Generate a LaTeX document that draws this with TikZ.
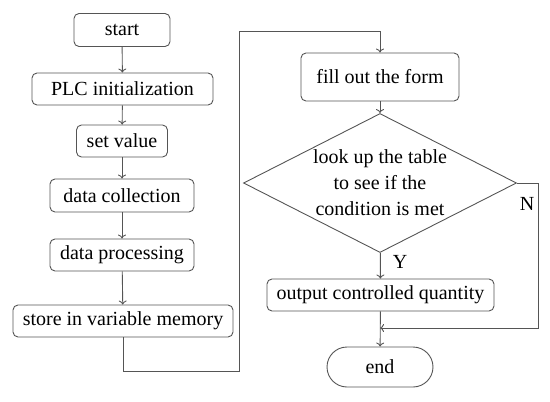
\documentclass[tikz,border=0pt]{standalone}
\usepackage{fontspec}
\setmainfont{Liberation Serif}
\usetikzlibrary{shapes.geometric,arrows.meta}

\definecolor{linegray}{RGB}{85,85,85}

\tikzset{
  stepbox/.style={draw=linegray, line width=0.9pt, rounded corners=5pt,
    inner sep=0pt, align=center},
  flow/.style={draw=linegray, line width=0.9pt, -{To[length=4pt,width=8pt]}},
}

\begin{document}
\begin{tikzpicture}[x=1pt,y=-1pt,font=\fontsize{20}{26}\selectfont]
  \useasboundingbox (0,0) rectangle (550,402);
  % left column
  \node[stepbox, minimum width=96, minimum height=33] (start) at (122,30) {start};
  \node[stepbox, minimum width=181, minimum height=32] (init) at (122.5,89) {PLC initialization};
  \node[stepbox, minimum width=91, minimum height=32] (setval) at (122,141) {set value};
  \node[stepbox, minimum width=144, minimum height=33] (collect) at (122,195.5) {data collection};
  \node[stepbox, minimum width=144, minimum height=32] (process) at (122,255) {data processing};
  \node[stepbox, minimum width=220, minimum height=32] (store) at (123,321) {store in variable memory};
  % right column
  \node[stepbox, minimum width=158, minimum height=48] (fill) at (380,77) {fill out the form};
  \node[draw=linegray, line width=0.9pt, shape=diamond, aspect=1.96, inner sep=0pt,
    minimum width=273, minimum height=139, align=center] (lookup) at (380,183)
    {look up the table\\to see if the\\condition is met};
  \node[stepbox, minimum width=227, minimum height=32] (output) at (380.5,295) {output controlled quantity};
  \node[stepbox, rounded corners=20pt, minimum width=106, minimum height=40] (stop) at (380,367) {end};
  \node (ylab) at (400,262) {Y};
  \node (nlab) at (527,204) {N};

  \coordinate (c1) at (239,371);
  \coordinate (c2) at (239,31);
  \coordinate (c3) at (538,183);
  \coordinate (join) at (380,328);

  \draw[flow] (start) -- (init);
  \draw[flow] (init) -- (setval);
  \draw[flow] (setval) -- (collect);
  \draw[flow] (collect) -- (process);
  \draw[flow] (process) -- (store);
  \draw[flow] (store.south) |- (c1) -- (c2) -| (fill.north);
  \draw[flow] (fill) -- (lookup);
  \draw[flow] (lookup) -- (output);
  \draw[flow] (lookup.east) -- (c3) |- (join);
  \draw[flow] (output) -- (stop);
\end{tikzpicture}
\end{document}
